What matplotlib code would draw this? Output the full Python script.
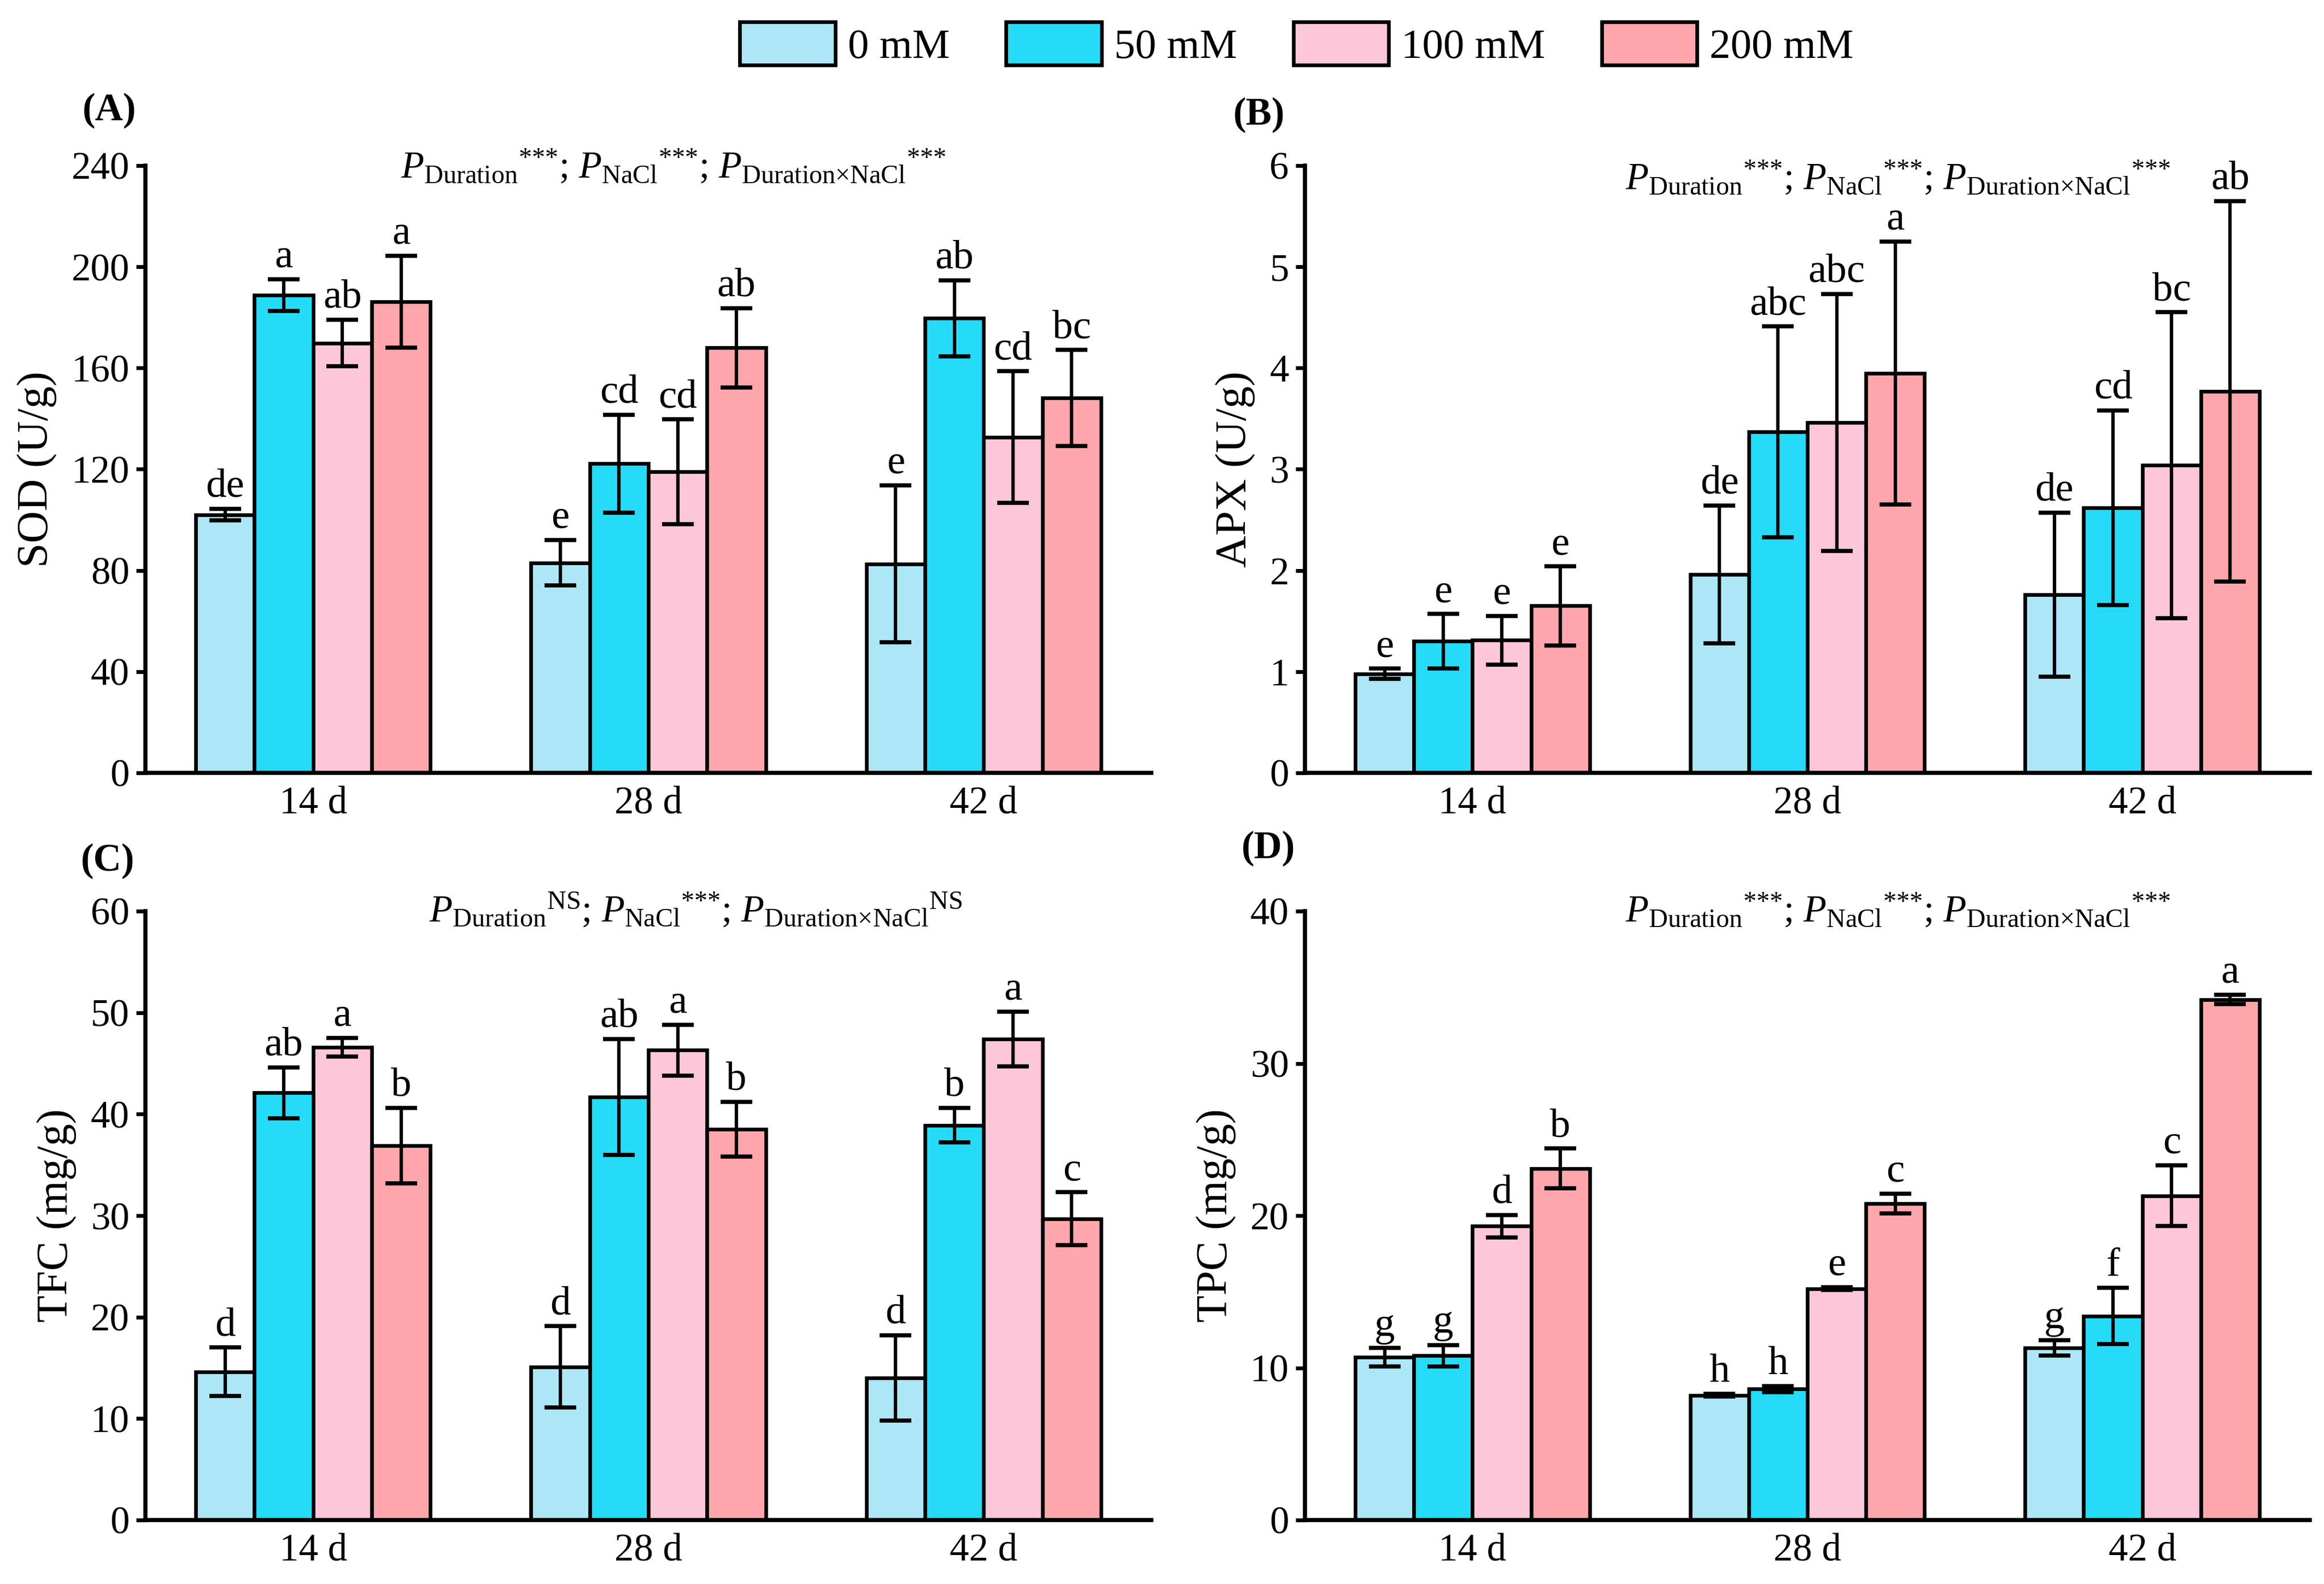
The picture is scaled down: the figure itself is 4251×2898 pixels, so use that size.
import numpy as np
import matplotlib
matplotlib.use("Agg")
import matplotlib.pyplot as plt
from matplotlib.patches import Patch

plt.rcParams['font.family'] = ['Liberation Serif', 'DejaVu Serif']
plt.rcParams['mathtext.fontset'] = 'custom'
plt.rcParams['mathtext.rm'] = 'Liberation Serif'
plt.rcParams['mathtext.it'] = 'Liberation Serif:italic'
plt.rcParams['mathtext.bf'] = 'Liberation Serif:bold'

# ---------------- data ----------------
days = ['14 d', '28 d', '42 d']
conc = ['0 mM', '50 mM', '100 mM', '200 mM']
colors = ['#ADE7F7', '#26DBF8', '#FEC6D9', '#FEA6AC']

# rows = NaCl concentration, columns = duration
sod_mean = [[102.0, 83.0, 82.6], [188.8, 122.2, 179.7], [169.9, 119.0, 132.7], [186.2, 168.0, 148.1]]
sod_err = [[2.3, 9.0, 31.0], [6.3, 19.3, 15.0], [9.2, 20.7, 26.0], [18.2, 15.6, 19.0]]
sod_let = [['de', 'e', 'e'], ['a', 'cd', 'ab'], ['ab', 'cd', 'cd'], ['a', 'ab', 'bc']]

apx_mean = [[0.98, 1.96, 1.76], [1.30, 3.37, 2.62], [1.31, 3.46, 3.04], [1.65, 3.95, 3.77]]
apx_err = [[0.05, 0.68, 0.81], [0.27, 1.04, 0.96], [0.24, 1.27, 1.51], [0.39, 1.30, 1.88]]
apx_let = [['e', 'de', 'de'], ['e', 'abc', 'cd'], ['e', 'abc', 'bc'], ['e', 'a', 'ab']]

tfc_mean = [[14.6, 15.1, 14.0], [42.1, 41.7, 38.9], [46.6, 46.3, 47.4], [36.9, 38.5, 29.7]]
tfc_err = [[2.4, 4.0, 4.2], [2.5, 5.7, 1.7], [0.9, 2.5, 2.7], [3.7, 2.7, 2.6]]
tfc_let = [['d', 'd', 'd'], ['ab', 'ab', 'b'], ['a', 'a', 'a'], ['b', 'b', 'c']]

tpc_mean = [[10.7, 8.2, 11.3], [10.8, 8.6, 13.4], [19.3, 15.2, 21.3], [23.1, 20.8, 34.2]]
tpc_err = [[0.6, 0.1, 0.5], [0.7, 0.2, 1.85], [0.75, 0.1, 2.0], [1.3, 0.65, 0.3]]
tpc_let = [['g', 'h', 'g'], ['g', 'h', 'f'], ['d', 'e', 'c'], ['b', 'c', 'a']]

ylabels = ['SOD (U/g)', 'APX (U/g)', 'TFC (mg/g)', 'TPC (mg/g)']
ylims = [240, 6, 60, 40]
yticks = [np.arange(0, 241, 40), np.arange(0, 7, 1), np.arange(0, 61, 10), np.arange(0, 41, 10)]
panel_labels = ['(A)', '(B)', '(C)', '(D)']
sig = [['***', '***', '***'], ['***', '***', '***'], ['NS', '***', 'NS'], ['***', '***', '***']]

W, H = 4251, 2898
fig = plt.figure(figsize=(W / 300, H / 300), dpi=300)

# axes rectangles (figure fraction)
rects = [
    [266 / W, 1 - 1414 / H, 1840 / W, 1111 / H],
    [2387 / W, 1 - 1414 / H, 1838 / W, 1111 / H],
    [266 / W, 1 - 2781 / H, 1840 / W, 1114 / H],
    [2387 / W, 1 - 2781 / H, 1838 / W, 1114 / H],
]
ptext_x = [0.525, 0.59, 0.547, 0.59]
ptext_y = [0.997, 0.978, 1.0, 1.0]

means = [sod_mean, apx_mean, tfc_mean, tpc_mean]
errs = [sod_err, apx_err, tfc_err, tpc_err]
lets = [sod_let, apx_let, tfc_let, tpc_let]

x = np.arange(len(days))
bw = 0.175
offs = (np.arange(4) - 1.5) * bw

for k in range(4):
    ax = fig.add_axes(rects[k])
    for i in range(4):
        ax.bar(x + offs[i], means[k][i], width=bw, color=colors[i], edgecolor='black',
               linewidth=1.6, zorder=2)
        ax.errorbar(x + offs[i], means[k][i], yerr=errs[k][i], fmt='none', ecolor='black',
                    elinewidth=1.5, capsize=7, capthick=1.8, zorder=3)
        for j in range(3):
            ax.annotate(lets[k][i][j], (x[j] + offs[i], means[k][i][j] + errs[k][i][j]),
                        xytext=(0, 1.5), textcoords='offset points', ha='center', va='bottom',
                        fontsize=18)
    ax.set_xlim(-0.5, 2.5)
    ax.set_ylim(0, ylims[k])
    ax.set_yticks(yticks[k])
    ax.set_xticks(x)
    ax.set_xticklabels(days)
    ax.tick_params(axis='y', direction='out', length=4, width=1.7, labelsize=17, pad=3)
    ax.tick_params(axis='x', length=0, labelsize=17, pad=6)
    for s in ['top', 'right']:
        ax.spines[s].set_visible(False)
    for s in ['left', 'bottom']:
        ax.spines[s].set_linewidth(1.8)
    ax.set_ylabel(ylabels[k], fontsize=19.5, labelpad=6)
    s1, s2, s3 = sig[k]
    txt = (r'$P_{\text{Duration}}{}^{\text{' + s1 + r'}}$; '
           r'$P_{\text{NaCl}}{}^{\text{' + s2 + r'}}$; '
           r'$P_{\text{Duration×NaCl}}{}^{\text{' + s3 + r'}}$')
    ax.text(ptext_x[k], ptext_y[k], txt, transform=ax.transAxes, ha='center', va='center',
            fontsize=16.5)

# panel labels
fig.text(200 / W, 1 - 202 / H, '(A)', fontsize=17, fontweight='bold', ha='center', va='center')
fig.text(2303 / W, 1 - 210 / H, '(B)', fontsize=17, fontweight='bold', ha='center', va='center')
fig.text(197 / W, 1 - 1575 / H, '(C)', fontsize=17, fontweight='bold', ha='center', va='center')
fig.text(2320 / W, 1 - 1552 / H, '(D)', fontsize=17, fontweight='bold', ha='center', va='center')

handles = [Patch(facecolor=c, edgecolor='black', linewidth=1.6) for c in colors]
fig.legend(handles, conc, loc='center', bbox_to_anchor=(0.558, 0.972), ncol=4, frameon=False,
           fontsize=18.5, handlelength=2.26, handleheight=1.19, handletextpad=0.3,
           columnspacing=1.34)

fig.savefig('out.png', dpi=300)
